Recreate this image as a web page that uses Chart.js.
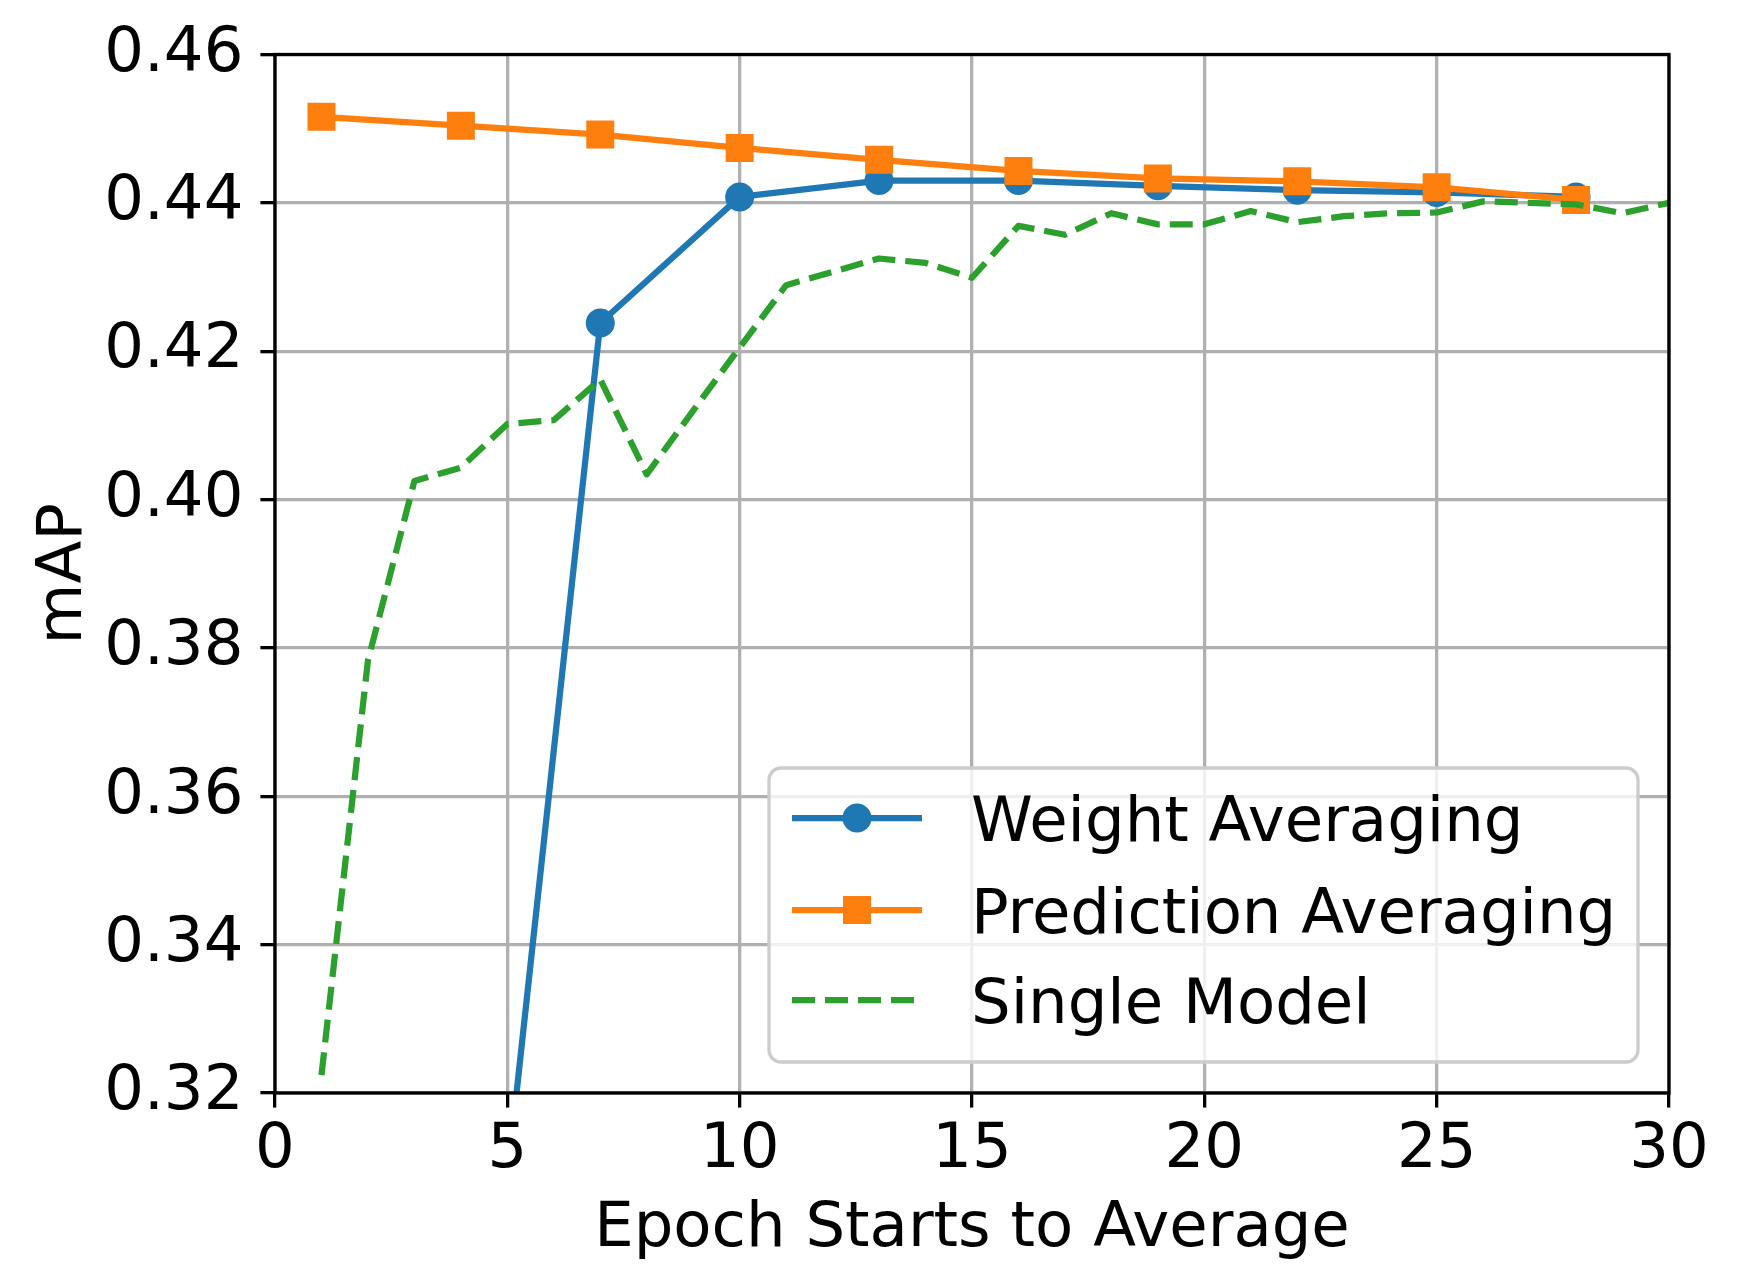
<!DOCTYPE html>
<html>
<head>
<meta charset="utf-8">
<script src="https://cdn.jsdelivr.net/npm/chart.js@4.4.0/dist/chart.umd.min.js"></script>
<style>
  html, body { margin: 0; padding: 0; background: #fff; }
  canvas { display: block; }
</style>
</head>
<body>
<canvas id="mapChart" width="1739" height="1288"></canvas>
<script>
// --- data ---
const avgEpochs = [1, 4, 7, 10, 13, 16, 19, 22, 25, 28];
const weightAvg = [0.120, 0.251, 0.4238, 0.4408, 0.4430, 0.4430, 0.4423, 0.4417, 0.4414, 0.4408];
const predAvg = [0.4516, 0.4504, 0.4492, 0.4474, 0.4458, 0.4443, 0.4433, 0.4429, 0.4421, 0.4404];

const singleEpochs = [1, 2, 3, 4, 5, 6, 7, 8, 9, 10, 11, 12, 13, 14, 15,
                      16, 17, 18, 19, 20, 21, 22, 23, 24, 25, 26, 27, 28, 29, 30];
const singleModel = [0.3224, 0.3783, 0.4025, 0.4043, 0.4102, 0.4107, 0.4162, 0.4034, 0.4120, 0.4205,
                     0.4289, 0.4307, 0.4325, 0.4319, 0.4299, 0.4369, 0.4357, 0.4386, 0.4371, 0.4371,
                     0.4389, 0.4374, 0.4382, 0.4386, 0.4387, 0.4402, 0.4400, 0.4398, 0.4386, 0.4400];

const seriesNames = ['Weight Averaging', 'Prediction Averaging', 'Single Model'];
const xTicks = [0, 5, 10, 15, 20, 25, 30];
const yTicks = [0.32, 0.34, 0.36, 0.38, 0.40, 0.42, 0.44, 0.46];

const FONT = 'DejaVu Sans';
const FS = 62.5;
const LW = 6.25;
const THIN = 3.3;

const toPoints = (xs, ys) => xs.map((x, i) => ({ x: x, y: ys[i] }));

// frame (all four spines) on top of the lines
const framePlugin = {
    id: 'frame',
    afterDatasetsDraw: (chart) => {
        const { ctx, chartArea: a } = chart;
        ctx.save();
        ctx.strokeStyle = '#000';
        ctx.lineWidth = THIN;
        ctx.lineJoin = 'miter';
        ctx.strokeRect(a.left, a.top, a.right - a.left, a.bottom - a.top);
        ctx.restore();
    }
};

// matplotlib-like legend box in the lower right
const legendPlugin = {
    id: 'mplLegend',
    afterDraw: (chart) => {
        const ctx = chart.ctx;
        const box = { x: 769, y: 768, w: 869, h: 294, r: 12 };
        ctx.save();
        ctx.beginPath();
        ctx.roundRect(box.x, box.y, box.w, box.h, box.r);
        ctx.fillStyle = 'rgba(255,255,255,0.8)';
        ctx.fill();
        ctx.strokeStyle = '#cccccc';
        ctx.lineWidth = THIN;
        ctx.stroke();

        const rows = [818, 910, 1000];
        const x0 = 792, x1 = 922, xm = 857;
        chart.data.datasets.forEach((ds, i) => {
            const y = rows[i];
            ctx.beginPath();
            ctx.setLineDash(ds.borderDash || []);
            ctx.lineCap = 'butt';
            ctx.strokeStyle = ds.borderColor;
            ctx.lineWidth = ds.borderWidth;
            ctx.moveTo(x0, y);
            ctx.lineTo(x1, y);
            ctx.stroke();
            ctx.setLineDash([]);
            ctx.fillStyle = ds.borderColor;
            if (ds.pointStyle === 'circle' && ds.pointRadius > 0) {
                ctx.beginPath();
                ctx.arc(xm, y, ds.pointRadius, 0, Math.PI * 2);
                ctx.fill();
            } else if (ds.pointStyle === 'rect' && ds.pointRadius > 0) {
                const s = ds.pointRadius * Math.SQRT1_2;
                ctx.fillRect(xm - s, y - s, 2 * s, 2 * s);
            }
            ctx.fillStyle = '#000';
            ctx.font = FS + 'px "' + FONT + '"';
            ctx.textAlign = 'left';
            ctx.textBaseline = 'alphabetic';
            ctx.fillText(ds.label, 971, y + 23);
        });
        ctx.restore();
    }
};

const data = {
    datasets: [
        {
            label: seriesNames[0],
            data: toPoints(avgEpochs, weightAvg),
            borderColor: '#1f77b4',
            backgroundColor: '#1f77b4',
            borderWidth: LW,
            pointStyle: 'circle',
            pointRadius: 14.5,
            pointBorderWidth: 0,
            pointBackgroundColor: '#1f77b4',
            borderJoinStyle: 'round',
            order: 3,
            clip: 0
        },
        {
            label: seriesNames[1],
            data: toPoints(avgEpochs, predAvg),
            borderColor: '#ff7f0e',
            backgroundColor: '#ff7f0e',
            borderWidth: LW,
            pointStyle: 'rect',
            pointRadius: 19.8,
            pointBorderWidth: 0,
            pointBackgroundColor: '#ff7f0e',
            borderJoinStyle: 'round',
            order: 2,
            clip: 0
        },
        {
            label: seriesNames[2],
            data: toPoints(singleEpochs, singleModel),
            borderColor: '#2ca02c',
            backgroundColor: '#2ca02c',
            borderWidth: LW,
            borderDash: [23, 10],
            borderCapStyle: 'butt',
            borderJoinStyle: 'round',
            pointStyle: false,
            pointRadius: 0,
            order: 1,
            clip: 0
        }
    ]
};

const config = {
    type: 'line',
    data: data,
    options: {
        responsive: false,
        devicePixelRatio: 1,
        animation: false,
        layout: { padding: { left: 0, top: 53, right: 70, bottom: 0 } },
        plugins: {
            legend: { display: false },
            tooltip: { enabled: false }
        },
        scales: {
            x: {
                type: 'linear',
                min: 0,
                max: 30,
                afterFit: (scale) => { scale.height = 195; },
                afterBuildTicks: (scale) => { scale.ticks = xTicks.map(v => ({ value: v })); },
                grid: {
                    color: '#b0b0b0',
                    lineWidth: THIN,
                    tickColor: '#000',
                    tickWidth: THIN,
                    tickLength: 14.6
                },
                border: { display: false },
                ticks: {
                    color: '#000',
                    padding: 6,
                    maxRotation: 0,
                    font: { family: FONT, size: FS },
                    callback: (v) => String(v)
                },
                title: {
                    display: true,
                    text: 'Epoch Starts to Average',
                    color: '#000',
                    font: { family: FONT, size: FS },
                    padding: { top: 0, bottom: 21 }
                }
            },
            y: {
                type: 'linear',
                min: 0.32,
                max: 0.46,
                afterFit: (scale) => { scale.width = 275; },
                afterBuildTicks: (scale) => { scale.ticks = yTicks.map(v => ({ value: v })); },
                grid: {
                    color: '#b0b0b0',
                    lineWidth: THIN,
                    tickColor: '#000',
                    tickWidth: THIN,
                    tickLength: 14.6
                },
                border: { display: false },
                ticks: {
                    color: '#000',
                    padding: 17,
                    font: { family: FONT, size: FS },
                    callback: (v) => Number(v).toFixed(2)
                },
                title: {
                    display: true,
                    text: 'mAP',
                    color: '#000',
                    font: { family: FONT, size: FS },
                    padding: { top: 27, bottom: 0 }
                }
            }
        }
    },
    plugins: [framePlugin, legendPlugin]
};

new Chart(document.getElementById('mapChart').getContext('2d'), config);
</script>
</body>
</html>
